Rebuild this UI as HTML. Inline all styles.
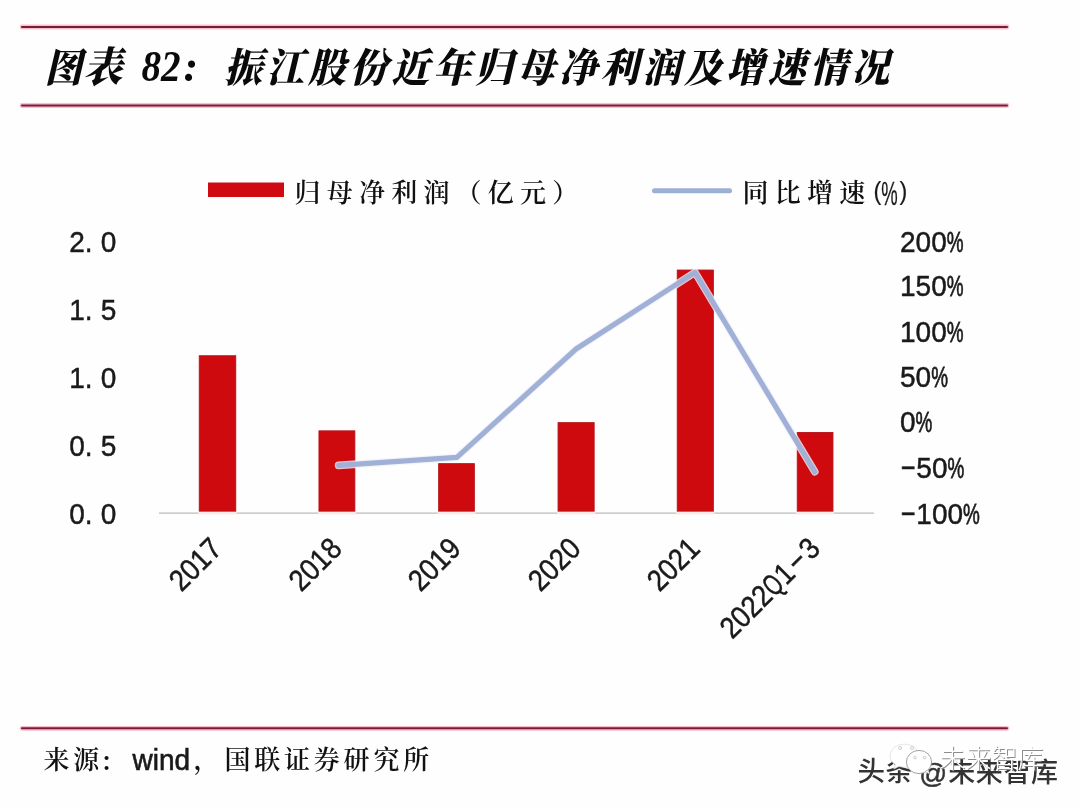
<!DOCTYPE html>
<html lang="zh-CN">
<head>
<meta charset="utf-8">
<title>图表 82</title>
<style>
html,body{margin:0;padding:0;background:#fefefe;}
body{width:1080px;height:807px;overflow:hidden;position:relative;}
svg{position:absolute;left:0;top:0;display:block;}
.kai{font-family:"Liberation Serif","Noto Serif CJK SC",serif;fill:#111;font-weight:600;}
.ttl{font-family:"Liberation Serif","Noto Serif CJK SC",serif;font-weight:900;font-style:italic;font-size:40px;fill:#0a0a0a;}
.ax{font-family:"Liberation Sans","Noto Sans CJK SC",sans-serif;font-size:28px;fill:#1a1a1a;stroke:#1a1a1a;stroke-width:0.45px;}
.wm{font-family:"Liberation Sans","Noto Sans CJK SC",sans-serif;}
</style>
</head>
<body>
<svg width="1080" height="807" viewBox="0 0 1080 807">
  <rect x="0" y="0" width="1080" height="807" fill="#fefefe"/>

  <!-- rules -->
  <g id="rules" stroke-linecap="round">
    <line x1="22" y1="27" x2="1007" y2="27" stroke="#f8bfcc" stroke-width="4.8"/>
    <line x1="22" y1="27" x2="1007" y2="27" stroke="#7d1a3a" stroke-width="2.1"/>
    <line x1="22" y1="105.5" x2="1007" y2="105.5" stroke="#f8bfcc" stroke-width="4.8"/>
    <line x1="22" y1="105.5" x2="1007" y2="105.5" stroke="#7d1a3a" stroke-width="2.1"/>
    <line x1="22" y1="728.3" x2="1007" y2="728.3" stroke="#f8bfcc" stroke-width="4.8"/>
    <line x1="22" y1="728.3" x2="1007" y2="728.3" stroke="#7d1a3a" stroke-width="2.1"/>
  </g>

  <!-- title -->
  <g id="title" class="ttl">
    <text transform="translate(44.5,81.5) scale(0.94,1)">图</text>
    <text transform="translate(83.5,81.5) scale(0.97,1.04)">表</text>
    <text transform="translate(141.5,81.3) scale(0.98,1.13)" style="font-size:40px">82</text>
    <text transform="translate(183.5,81.3) scale(1.1,1.1)" style="font-size:40px">:</text>
    <text transform="translate(224.3,81.5) scale(0.95,1)" textLength="700" lengthAdjust="spacing">振江股份近年归母净利润及增速情况</text>
  </g>

  <!-- legend -->
  <g id="legend">
    <rect x="208" y="182.5" width="76" height="14.5" fill="#cf0a10"/>
    <text class="kai" x="294.6" y="201.6" font-size="26" letter-spacing="6.2">归母净利润（亿元）</text>
    <line x1="654.5" y1="190.8" x2="729.5" y2="190.8" stroke="#9cafd5" stroke-width="5" stroke-linecap="round"/>
    <text class="kai" x="742.6" y="201.6" font-size="26" letter-spacing="6.2">同比增速</text>
    <text class="ax" transform="translate(873.4,199.6) scale(0.9,1)" style="font-size:26px;stroke-width:0.2px">(</text>
    <text class="ax" transform="translate(881.2,204.6) scale(0.66,1.17)" style="stroke-width:0.25px">%</text>
    <text class="ax" transform="translate(899.6,199.6) scale(0.9,1)" style="font-size:26px;stroke-width:0.2px">)</text>
  </g>

  <!-- axis -->
  <line x1="159" y1="513.2" x2="874" y2="513.2" stroke="#bbbcc0" stroke-width="1.3"/>

  <!-- bars -->
  <g id="barfeet" fill="#fdeaea">
    <rect x="198.2" y="511.6" width="38.6" height="3"/>
    <rect x="317.9" y="511.6" width="38.0" height="3"/>
    <rect x="437.6" y="511.6" width="37.8" height="3"/>
    <rect x="557.0" y="511.6" width="38.2" height="3"/>
    <rect x="676.2" y="511.6" width="38.2" height="3"/>
    <rect x="796.2" y="511.6" width="37.8" height="3"/>
  </g>
  <g id="bars" fill="#cf0a0f" stroke="#b5121b" stroke-width="0.9">
    <rect x="199.25" y="355.75" width="36.50" height="155.40"/>
    <rect x="318.95" y="430.85" width="35.90" height="80.30"/>
    <rect x="438.65" y="463.65" width="35.70" height="47.50"/>
    <rect x="558.05" y="422.65" width="36.10" height="88.50"/>
    <rect x="677.25" y="270.05" width="36.10" height="241.10"/>
    <rect x="797.25" y="432.45" width="35.70" height="78.70"/>
  </g>

  <!-- growth line -->
  <g id="growth" fill="none" stroke-linecap="round" stroke-linejoin="round">
    <polyline points="338.6,465.4 456.9,457.4 576,349 695,272.4 814.8,471.8" stroke="#f1f3fa" stroke-width="7.6" opacity="0.8"/>
    <polyline points="338.6,465.4 456.9,457.4 576,349 695,272.4 814.8,471.8" stroke="#a1b0d6" stroke-width="5.2"/>
  </g>

  <!-- left axis labels -->
  <g id="yl" class="ax">
    <text transform="translate(69.2,251.5) scale(1,1.08)" >2.<tspan dx="8.2">0</tspan></text>
    <text transform="translate(69.2,319.5) scale(1,1.08)" >1.<tspan dx="8.2">5</tspan></text>
    <text transform="translate(69.2,387.5) scale(1,1.08)" >1.<tspan dx="8.2">0</tspan></text>
    <text transform="translate(69.2,455.5) scale(1,1.08)" >0.<tspan dx="8.2">5</tspan></text>
    <text transform="translate(69.2,523.5) scale(1,1.08)" >0.<tspan dx="8.2">0</tspan></text>
  </g>

  <!-- right axis labels -->
  <g id="yr" class="ax">
    <text transform="translate(900,252) scale(1,1.08)" >200<tspan textLength="16.8" lengthAdjust="spacingAndGlyphs" style="stroke-width:0.7px">%</tspan></text>
    <text transform="translate(900,296.3) scale(1,1.08)" >150<tspan textLength="16.8" lengthAdjust="spacingAndGlyphs" style="stroke-width:0.7px">%</tspan></text>
    <text transform="translate(900,341.9) scale(1,1.08)" >100<tspan textLength="16.8" lengthAdjust="spacingAndGlyphs" style="stroke-width:0.7px">%</tspan></text>
    <text transform="translate(900,387.4) scale(1,1.08)" >50<tspan textLength="16.8" lengthAdjust="spacingAndGlyphs" style="stroke-width:0.7px">%</tspan></text>
    <text transform="translate(900,432.4) scale(1,1.08)" >0<tspan textLength="16.8" lengthAdjust="spacingAndGlyphs" style="stroke-width:0.7px">%</tspan></text>
    <text transform="translate(900,478) scale(1,1.08)" ><tspan dy="-1.9" textLength="16.35" lengthAdjust="spacingAndGlyphs">-</tspan><tspan dy="1.9">50</tspan><tspan textLength="16.8" lengthAdjust="spacingAndGlyphs" style="stroke-width:0.7px">%</tspan></text>
    <text transform="translate(900,524.4) scale(1,1.08)" ><tspan dy="-1.9" textLength="16.35" lengthAdjust="spacingAndGlyphs">-</tspan><tspan dy="1.9">100</tspan><tspan textLength="16.8" lengthAdjust="spacingAndGlyphs" style="stroke-width:0.7px">%</tspan></text>
  </g>

  <!-- category labels -->
  <g id="xl" class="ax" text-anchor="end">
    <text transform="translate(223.7,550.5) rotate(-45) scale(0.96,1.08)">2017</text>
    <text transform="translate(343.5,550.5) rotate(-45) scale(0.96,1.08)">2018</text>
    <text transform="translate(462.7,550.5) rotate(-45) scale(0.96,1.08)">2019</text>
    <text transform="translate(582.7,550.5) rotate(-45) scale(0.96,1.08)">2020</text>
    <text transform="translate(701.7,550.5) rotate(-45) scale(0.96,1.08)">2021</text>
    <text transform="translate(821.7,550.5) rotate(-45) scale(0.96,1.08)">2022<tspan textLength="16.5" lengthAdjust="spacingAndGlyphs">Q</tspan><tspan dx="1">1</tspan><tspan dx="1.5" dy="-1.9" textLength="18" lengthAdjust="spacingAndGlyphs">-</tspan><tspan dx="1.5" dy="1.9">3</tspan></text>
  </g>

  <!-- source -->
  <g id="src">
    <text class="kai" x="43.4" y="769" font-size="26" letter-spacing="3.8">来源</text>
    <text class="kai" x="100" y="771" font-size="26">：</text>
    <text class="ax" transform="translate(132.5,769.6) scale(1,1.08)" style="stroke-width:0.6px">wind</text>
    <text class="kai" x="193.5" y="769" font-size="26">，</text>
    <text class="kai" x="224.4" y="769" font-size="26" letter-spacing="3.8">国联证券研究所</text>
  </g>

  <!-- watermark -->
  <g id="wm" class="wm">
    <g font-weight="500" fill="#333333">
      <text x="857.6" y="780.8" font-size="27.5" letter-spacing="0.5">头条</text>
      <text x="919.2" y="782.6" font-size="27.5" stroke="#333333" stroke-width="0.5">@</text>
      <text x="948.2" y="782.3" font-size="27" letter-spacing="0.6">未来智库</text>
    </g>
    <!-- wechat mark -->
    <g id="wx" fill="#ffffff" stroke-linejoin="round">
      <path d="M904.5 744.2c-8 0-14.5 5.2-14.5 11.6 0 3.6 2 6.8 5.300 8.900l-1.500 4.300 5.200-2.600c1.700 0.500 3.600 0.800 5.500 0.800 8 0 14.500-5.200 14.500-11.400 0-6.400-6.500-11.600-14.500-11.600z" stroke="#d9d9d9" stroke-width="0.7"/>
      <ellipse cx="919" cy="762" rx="12.6" ry="11.6" stroke="#8a8a8a" stroke-width="0.8"/>
      <path d="M925 771.500l4.600 2.600-1.200-4.200z" stroke="#aaaaaa" stroke-width="0.6"/>
      <g fill="#f4f4f4" stroke="#c4c4c4" stroke-width="0.7">
        <circle cx="900.2" cy="748" r="1.6"/>
        <circle cx="912" cy="748" r="1.6"/>
        <circle cx="915" cy="757.6" r="1.4"/>
        <circle cx="924.6" cy="757.6" r="1.4"/>
      </g>
    </g>
    <text x="940.4" y="768.6" font-size="26" font-weight="300" fill="#8c8c8c" textLength="104" lengthAdjust="spacingAndGlyphs">未来智库</text>
    <text x="939.6" y="767.8" font-size="26" font-weight="300" fill="#ffffff" textLength="104" lengthAdjust="spacingAndGlyphs">未来智库</text>
  </g>
</svg>
</body>
</html>
